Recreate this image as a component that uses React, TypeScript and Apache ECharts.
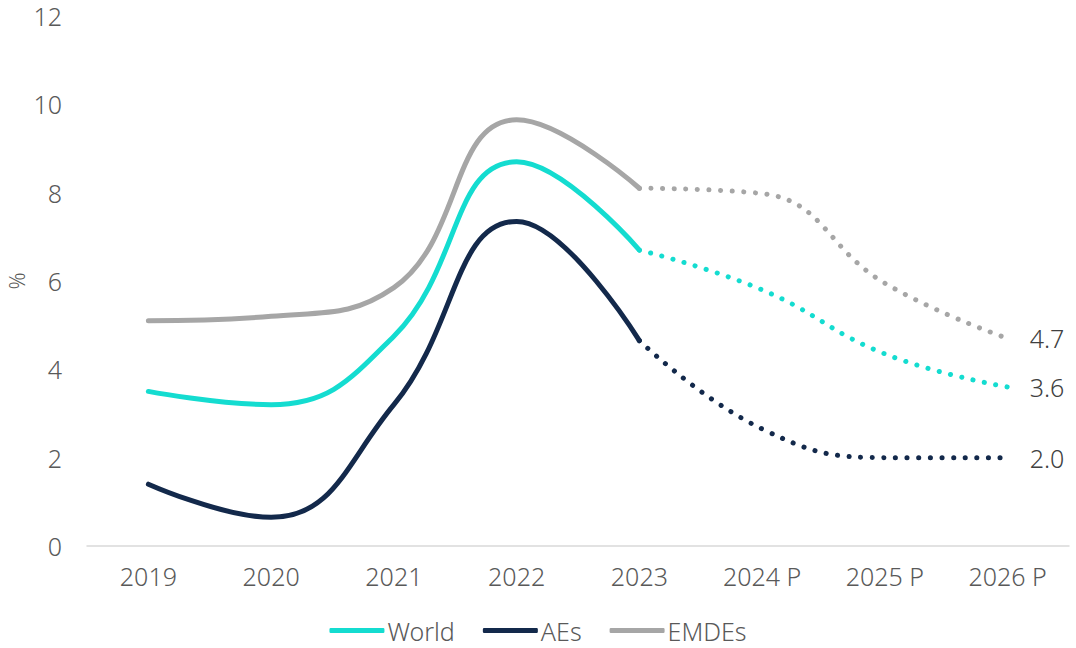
import React, { useEffect, useRef } from "react";
import * as echarts from "echarts";

const categories = ["2019", "2020", "2021", "2022", "2023", "2024 P", "2025 P", "2026 P"];
const world = [3.5, 3.2, 4.75, 8.7, 6.7, 5.8, 4.35, 3.6];
const aes = [1.4, 0.65, 3.2, 7.35, 4.65, 2.65, 2.0, 2.0];
const emdes = [5.1, 5.2, 5.85, 9.65, 8.1, 7.98, 5.95, 4.7];
const yTicks = { min: 0, max: 12, interval: 2 };
const yAxisName = "%";

const COLORS = { World: "#14dcd0", AEs: "#13294b", EMDEs: "#a6a6a6" };
const ACTUAL_END = 4; // index of 2023
const FONT = "'Noto Sans', sans-serif";
const TEXT = "#595959";
const FS = 25;

function split(vals: number[]) {
  const solid = vals.map((v, i) => (i <= ACTUAL_END ? v : "-"));
  const dotted = vals.map((v, i) => (i >= ACTUAL_END ? v : "-"));
  return { solid, dotted };
}

export default function App() {
  const ref = useRef<HTMLDivElement>(null);
  useEffect(() => {
    document.body.style.margin = "0";
    const chart = echarts.init(ref.current!, null, { renderer: "svg" });
    const groups: [string, number[]][] = [
      ["World", world],
      ["AEs", aes],
      ["EMDEs", emdes],
    ];
    const series: any[] = [];
    groups.forEach(([name, vals]) => {
      const { solid, dotted } = split(vals);
      const color = (COLORS as any)[name];
      series.push({
        name,
        type: "line",
        data: solid,
        smooth: 0.45,
        showSymbol: false,
        symbol: "none",
        lineStyle: { color, width: 5, cap: "round" },
        itemStyle: { color },
        z: 3,
      });
      series.push({
        name,
        type: "line",
        data: dotted,
        smooth: 0.45,
        showSymbol: false,
        symbol: "none",
        lineStyle: { color, width: 5, type: [0.1, 11.5], cap: "round" },
        itemStyle: { color },
        endLabel: {
          show: true,
          distance: 22,
          formatter: (p: any) => Number(p.value).toFixed(1),
          color: "#404040",
          fontSize: FS,
          fontWeight: 300,
          fontFamily: FONT,
        },
        z: 2,
      });
    });
    chart.setOption({
      animation: false,
      backgroundColor: "#ffffff",
      grid: { left: 87, right: 7, top: 16, bottom: 102, outerBoundsMode: "none", containLabel: false },
      graphic: [
        {
          type: "text",
          x: 17,
          y: 281,
          rotation: Math.PI / 2,
          style: {
            text: yAxisName,
            fill: TEXT,
            fontSize: 21,
            fontWeight: 300,
            fontFamily: FONT,
            align: "center",
            verticalAlign: "middle",
          },
        },
      ],
      legend: {
        data: ["World", "AEs", "EMDEs"],
        bottom: 0,
        left: "center",
        icon: "roundRect",
        itemWidth: 55,
        itemHeight: 5,
        itemGap: 28,
        textStyle: { color: TEXT, fontSize: FS, fontWeight: 300, fontFamily: FONT, padding: [0, 0, 0, -2] },
      },
      xAxis: {
        type: "category",
        data: categories,
        boundaryGap: true,
        axisLine: { lineStyle: { color: "#d9d9d9", width: 1.5 } },
        axisTick: { show: false },
        axisLabel: { color: TEXT, fontSize: FS, fontWeight: 300, fontFamily: FONT, margin: 17 },
        splitLine: { show: false },
      },
      yAxis: {
        type: "value",
        min: yTicks.min,
        max: yTicks.max,
        interval: yTicks.interval,
        axisLine: { show: false },
        axisTick: { show: false },
        splitLine: { show: false },
        axisLabel: { color: TEXT, fontSize: FS, fontWeight: 300, fontFamily: FONT, margin: 25, lineHeight: 22 },
      },
      series,
    });
    return () => chart.dispose();
  }, []);
  return (
    <div
      ref={ref}
      style={{ position: "absolute", left: 0, top: 0, width: 1076, height: 648 }}
    />
  );
}
